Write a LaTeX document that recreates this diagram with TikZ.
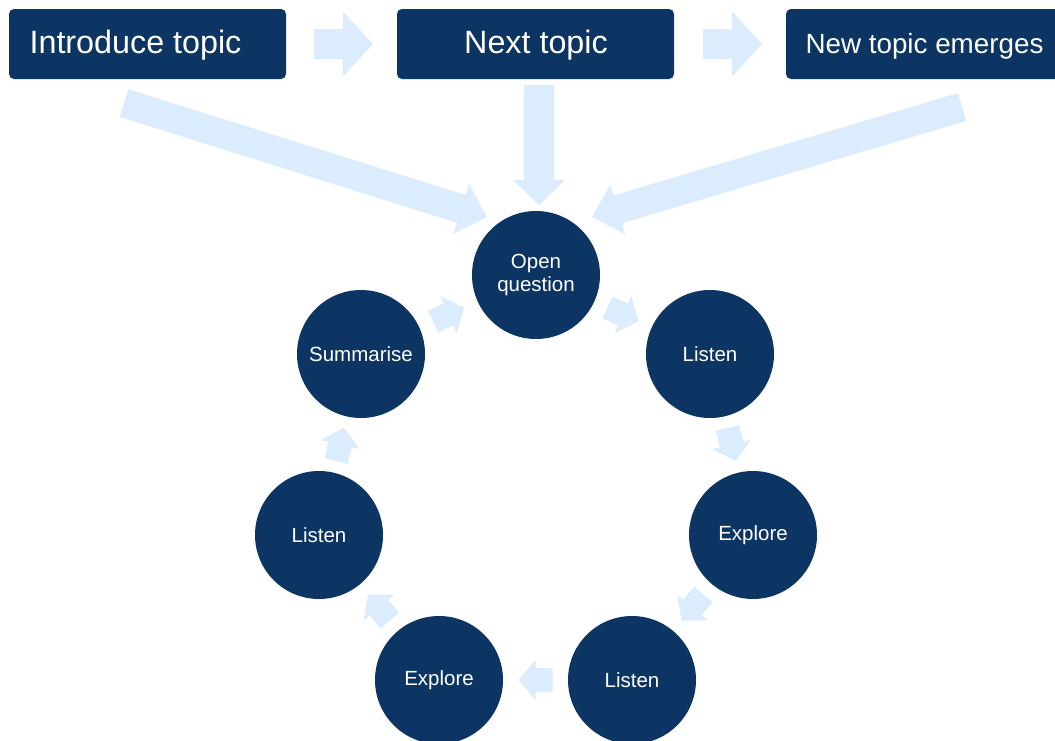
\documentclass[tikz,border=0pt]{standalone}
\usepackage{fontspec}
\setmainfont{Liberation Sans}
\usetikzlibrary{calc}
\definecolor{navy}{RGB}{12,53,100}
\definecolor{pale}{RGB}{219,237,253}
% block arrow: #1 tail, #2 tip, #3 shaft half width, #4 head half width, #5 head length
\newcommand{\blockarrow}[5]{%
  \coordinate (bah) at ($(#2)!#5!(#1)$);
  \fill[pale] ($(#1)!#3!90:(#2)$) -- ($(bah)!#3!90:(#2)$) -- ($(bah)!#4!90:(#2)$) -- (#2)
    -- ($(bah)!#4!-90:(#2)$) -- ($(bah)!#3!-90:(#2)$) -- ($(#1)!#3!-90:(#2)$) -- cycle;}
\newcommand{\cyclearrow}[2]{%
  \coordinate (cam) at ($(#1)!0.5!(#2)$);
  \coordinate (cas) at ($(cam)!17pt!(#1)$);
  \coordinate (cae) at ($(cam)!17pt!(#2)$);
  \blockarrow{cas}{cae}{12pt}{20pt}{17pt}}
\tikzset{
  topbox/.style={rectangle, rounded corners=5pt, fill=navy, text=white,
    minimum width=277pt, minimum height=70pt, inner sep=0pt},
  boxtext/.style={text=white, inner sep=0pt, text height=24pt, text depth=6pt},
  stage/.style={circle, fill=navy, text=white, minimum size=128pt, inner sep=0pt,
    align=center, font=\fontsize{20.5}{23.5}\selectfont}
}
\begin{document}
\begin{tikzpicture}[x=1pt,y=-1pt]
\useasboundingbox (0,0) rectangle (1055,740);
\fill[white] (0,0) rectangle (1055,740);
% top boxes
\node[topbox] (b1) at (147.5,44) {};
\node[topbox] (b2) at (535.5,44) {};
\node[topbox] (b3) at (924.5,44) {};
\node[boxtext, font=\fontsize{32.3}{36}\selectfont] (t1) at (135.5,44) {Introduce topic};
\node[boxtext, font=\fontsize{32.3}{36}\selectfont] (t2) at (536,44) {Next topic};
\node[boxtext, font=\fontsize{27.8}{32}\selectfont] (t3) at (924.5,44) {New topic emerges};
% stage circles
\node[stage] (oq) at (536,275) {Open\\question};
\node[stage] (l1) at (710,354) {Listen};
\node[stage] (e1) at (753,535) {Explore};
\node[stage] (l2) at (632,680) {Listen};
\node[stage] (e2) at (439,680) {Explore};
\node[stage] (l3) at (319,535) {Listen};
\node[stage] (su) at (361,354) {Summarise};
% arrows between top boxes
\coordinate (h1s) at (314,44); \coordinate (h1e) at (373,44);
\coordinate (h2s) at (703,44); \coordinate (h2e) at (762,44);
\blockarrow{h1s}{h1e}{15pt}{32.5pt}{30pt}
\blockarrow{h2s}{h2e}{15pt}{32.5pt}{30pt}
% arrows from top boxes to open question
\coordinate (d1s) at (124,103); \coordinate (d1e) at (487,217);
\coordinate (d2s) at (539,85);  \coordinate (d2e) at (539,205);
\coordinate (d3s) at (962,107); \coordinate (d3e) at (592,217);
\blockarrow{d1s}{d1e}{14.5pt}{26pt}{27pt}
\blockarrow{d2s}{d2e}{15pt}{26pt}{25pt}
\blockarrow{d3s}{d3e}{14.5pt}{26pt}{27pt}
% cycle arrows
\cyclearrow{oq}{l1}
\cyclearrow{l1}{e1}
\cyclearrow{e1}{l2}
\cyclearrow{l2}{e2}
\cyclearrow{e2}{l3}
\cyclearrow{l3}{su}
\cyclearrow{su}{oq}
\end{tikzpicture}
\end{document}
